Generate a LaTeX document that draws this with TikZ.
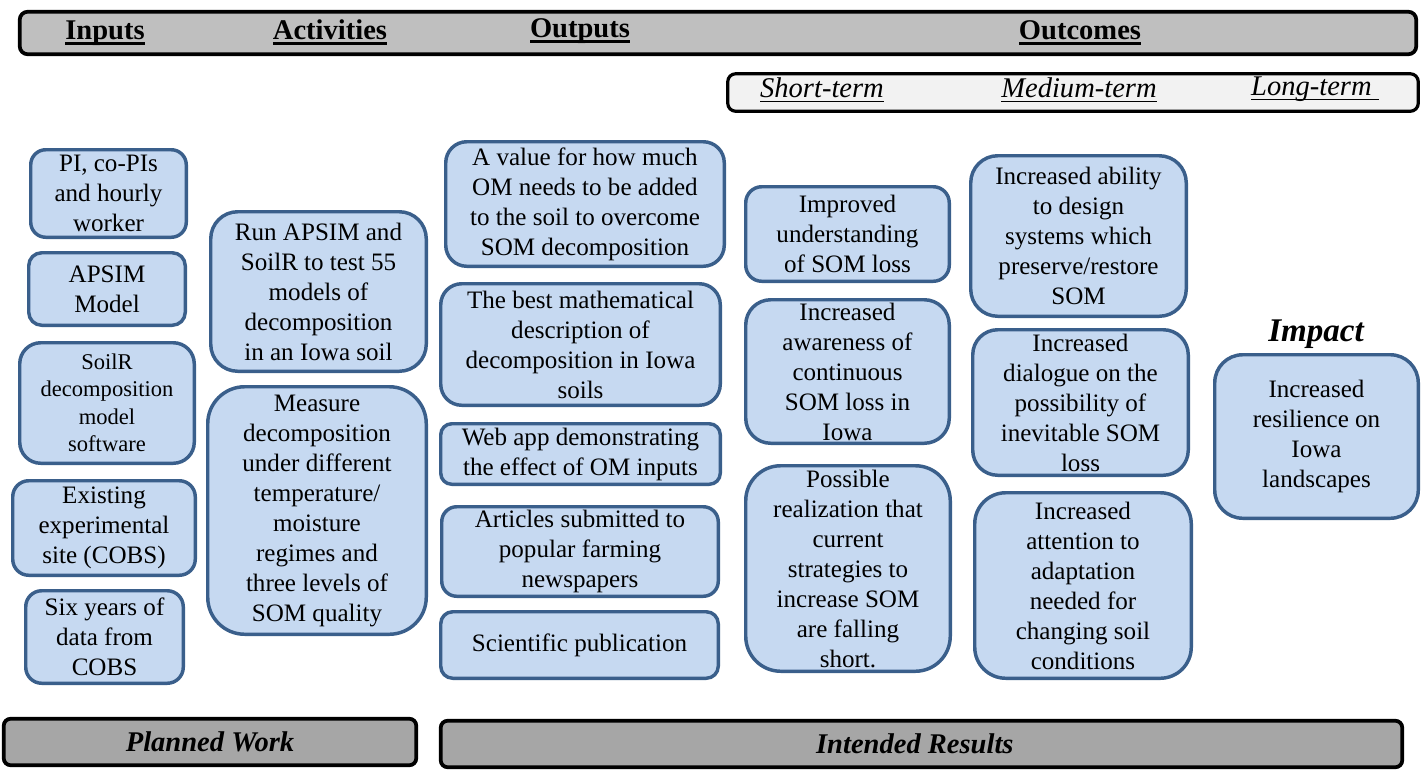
\documentclass[tikz,border=0pt]{standalone}
\usepackage{fontspec}
\setmainfont{Liberation Serif}

\definecolor{boxfill}{HTML}{C6D9F1}
\definecolor{boxline}{HTML}{3A5F8B}
\definecolor{hdrgray}{HTML}{BFBFBF}
\definecolor{footgray}{HTML}{A6A6A6}
\definecolor{termgray}{HTML}{F2F2F2}

% text with a rule under it: #1 depth of the rule, #2 its thickness
\newcommand\barul[3]{\setbox0\hbox{#3}\leavevmode\rlap{\rule[-#1]{\wd0}{#2}}\box0}

\tikzset{
  resultbox/.style={draw=boxline, fill=boxfill, line width=2.6pt, align=center,
    inner sep=0pt, font=\fontsize{18.8}{22.5}\selectfont},
  smallbox/.style={resultbox, font=\fontsize{16.9}{20.6}\selectfont},
  hdrband/.style={draw=black, fill=hdrgray, line width=2.8pt, inner sep=0pt},
  termband/.style={draw=black, fill=termgray, line width=2.4pt, inner sep=0pt},
  footband/.style={draw=black, fill=footgray, line width=2.8pt, inner sep=0pt,
    font=\fontsize{21.4}{25}\selectfont\bfseries\itshape},
  hdrlabel/.style={anchor=base, inner sep=0pt, font=\fontsize{21.4}{25}\selectfont\bfseries},
  termlabel/.style={anchor=base, inner sep=0pt, font=\fontsize{21.4}{25}\selectfont\itshape},
}

% \obox[style]{name}{x1}{y1}{x2}{y2}{corner radius}{text}, all in pixels
\newcommand\obox[8][resultbox]{%
  \node[#1, rounded corners={#7*0.75pt},
        minimum width={(#5-#3)*0.75pt-2.6pt},
        minimum height={(#6-#4)*0.75pt-2.6pt}]
    (#2) at ({(#3+#5)/2},{(#4+#6)/2}) {#8};}

\begin{document}
\begin{tikzpicture}[x=0.75pt, y=-0.75pt]
  \useasboundingbox (0,0) rectangle (1422,779);

  % column headings
  \obox[hdrband]{header}{18}{10}{1418}{56}{8}{}
  \node[hdrlabel] (hinputs) at (105,39) {\barul{4.2pt}{2pt}{Inputs}};
  \node[hdrlabel] (hact) at (330,39) {\barul{4.2pt}{2pt}{Activities}};
  \node[hdrlabel] (hout) at (580,37) {\barul{4.2pt}{2pt}{Outputs}};
  \node[hdrlabel] (houtc) at (1080,39) {\barul{4.2pt}{2pt}{Outcomes}};

  % outcome terms
  \obox[termband]{terms}{726}{72}{1420}{113}{8}{}
  \node[termlabel] (tshort) at (822,97) {\barul{4pt}{1.2pt}{Short-term}};
  \node[termlabel] (tmed) at (1079,97) {\barul{4pt}{1.2pt}{Medium-term}};
  \node[termlabel] (tlong) at (1315,95) {\barul{4pt}{1.2pt}{Long-term\ }};

  % inputs
  \obox{in1}{29}{148}{188}{239}{15}{PI, co-PIs\\and hourly\\worker}
  \obox{in2}{27}{251}{187}{327}{13}{APSIM\\Model}
  \obox[smallbox]{in3}{18}{341}{196}{465}{21}{SoilR\\decomposition\\model\\software}
  \obox{in4}{11}{479}{197}{577}{16}{Existing\\experimental\\site (COBS)}
  \obox{in5}{24}{589}{185}{685}{16}{Six years of\\data from\\COBS}

  % activities
  \obox{act1}{209}{210}{428}{373}{27}{Run APSIM and\\SoilR to test 55\\models of\\decomposition\\in an Iowa soil}
  \obox{act2}{206}{385}{428}{636}{37}{Measure\\decomposition\\under different\\temperature/\\moisture\\regimes and\\three levels of\\SOM quality}

  % outputs
  \obox{out1}{444}{140}{726}{268}{21}{A value for how much\\OM needs to be added\\to the soil to overcome\\SOM decomposition}
  \obox{out2}{439}{282}{722}{407}{21}{The best mathematical\\description of\\decomposition in Iowa\\soils}
  \obox{out3}{439}{422}{722}{486}{11}{Web app demonstrating\\the effect of OM inputs}
  \obox{out4}{440}{505}{720}{598}{15}{Articles submitted to\\popular farming\\newspapers}
  \obox{out5}{439}{610}{720}{680}{12}{Scientific publication}

  % short-term outcomes
  \obox{st1}{744}{185}{951}{283}{16}{Improved\\understanding\\of SOM loss}
  \obox{st2}{744}{298}{951}{445}{25}{Increased\\awareness of\\continuous\\SOM loss in\\Iowa}
  \obox{st3}{744}{464}{952}{673}{35}{Possible\\realization that\\current\\strategies to\\increase SOM\\are falling\\short.}

  % medium-term outcomes
  \obox{mt1}{969}{154}{1188}{318}{27}{Increased ability\\to design\\systems which\\preserve/restore\\SOM}
  \obox{mt2}{971}{328}{1190}{477}{25}{Increased\\dialogue on the\\possibility of\\inevitable SOM\\loss}
  \obox{mt3}{973}{491}{1193}{680}{31}{Increased\\attention to\\adaptation\\needed for\\changing soil\\conditions}

  % long-term impact
  \node[anchor=base, inner sep=0pt, font=\fontsize{24.8}{28}\selectfont\bfseries\itshape]
    (impact) at (1316,341) {Impact};
  \obox{imp}{1213}{353}{1420}{520}{28}{Increased\\resilience on\\Iowa\\landscapes}

  % footer bands
  \obox[footband]{planned}{2}{717}{418}{767}{7}{Planned Work}
  \obox[footband]{intended}{439}{719}{1404}{769}{7}{\hspace*{-10pt}Intended Results}
\end{tikzpicture}
\end{document}
